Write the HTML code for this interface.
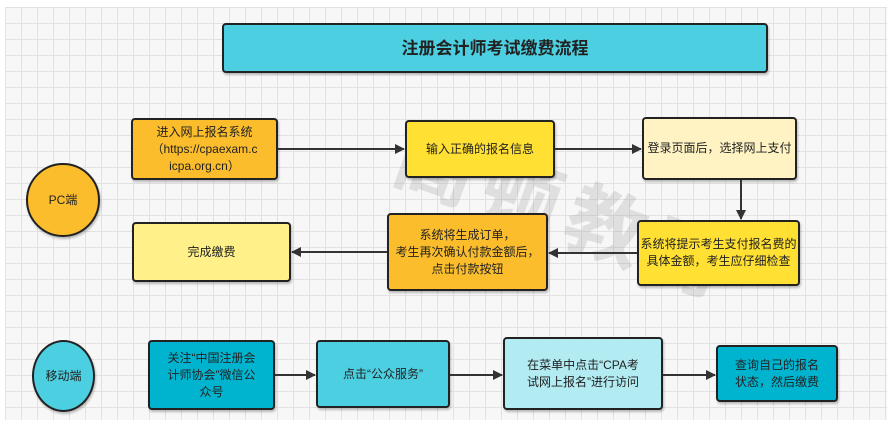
<!DOCTYPE html>
<html><head><meta charset="utf-8"><style>
body{margin:0;width:892px;height:429px;background:#fff;position:relative;overflow:hidden;font-family:"Liberation Sans","Noto Sans CJK SC",sans-serif;}
.grid{position:absolute;left:5px;top:7px;width:882px;height:413px;background-color:#f7f7f7;
background-image:linear-gradient(#e2e2e2 1px,transparent 1px),linear-gradient(90deg,#e2e2e2 1px,transparent 1px);background-size:16px 16px;}
.b{position:absolute;box-sizing:border-box;border:2px solid #222;border-radius:4px;display:flex;align-items:center;justify-content:center;text-align:center;font-size:12px;color:#222;line-height:17px;white-space:nowrap;box-shadow:1px 2px 2px rgba(0,0,0,.25);}
svg{position:absolute;left:0;top:0}
.wm{position:absolute;font-size:80px;color:rgba(150,150,150,.25);font-weight:bold;transform:rotate(20deg);left:390px;top:150px;letter-spacing:10px;}
</style></head><body>
<div class="grid"></div>
<div class="wm">高顿教育</div>
<div class="b" style="left:222px;top:23px;width:546px;height:50px;background:#4ccfe0;font-size:17px;font-weight:bold;">注册会计师考试缴费流程</div>
<div class="b" style="left:131px;top:118px;width:147px;height:62px;background:#fbbd2c;">进入网上报名系统<br>（https://cpaexam.c<br>icpa.org.cn）</div>
<div class="b" style="left:405px;top:120px;width:150px;height:58px;background:#ffe033;">输入正确的报名信息</div>
<div class="b" style="left:642px;top:117px;width:155px;height:63px;background:#fff3c4;">登录页面后，选择网上支付</div>
<div class="b" style="left:637px;top:220px;width:163px;height:66px;background:#ffe033;">系统将提示考生支付报名费的<br>具体金额，考生应仔细检查</div>
<div class="b" style="left:387px;top:213px;width:161px;height:78px;background:#fbbd2c;">系统将生成订单，<br>考生再次确认付款金额后，<br>点击付款按钮</div>
<div class="b" style="left:132px;top:222px;width:159px;height:60px;background:#fff08a;">完成缴费</div>
<div class="b" style="left:26px;top:163px;width:74px;height:74px;border-radius:50%;background:#fbbd2c;">PC端</div>
<div class="b" style="left:32px;top:340px;width:63px;height:72px;border-radius:50%;background:#4ccfe0;">移动端</div>
<div class="b" style="left:148px;top:340px;width:127px;height:70px;background:#00b4d0;">关注“中国注册会<br>计师协会”微信公<br>众号</div>
<div class="b" style="left:316px;top:340px;width:134px;height:68px;background:#4ccfe0;">点击“公众服务”</div>
<div class="b" style="left:503px;top:337px;width:160px;height:73px;background:#b2ebf2;">在菜单中点击“CPA考<br>试网上报名”进行访问</div>
<div class="b" style="left:716px;top:345px;width:122px;height:57px;background:#00b4d0;">查询自己的报名<br>状态，然后缴费</div>
<svg width="892" height="429">
<defs><marker id="a" markerWidth="10" markerHeight="10" refX="9" refY="5" orient="auto" markerUnits="userSpaceOnUse"><path d="M0,0 L10,5 L0,10 z" fill="#333"/></marker></defs>
<g stroke="#333" stroke-width="2" fill="none" marker-end="url(#a)">
<line x1="278" y1="149" x2="404" y2="149"/>
<line x1="555" y1="149" x2="641" y2="149"/>
<line x1="741" y1="180" x2="741" y2="219"/>
<line x1="637" y1="253" x2="549" y2="253"/>
<line x1="387" y1="252" x2="292" y2="252"/>
<line x1="275" y1="375" x2="315" y2="375"/>
<line x1="450" y1="375" x2="502" y2="375"/>
<line x1="663" y1="375" x2="715" y2="375"/>
</g></svg>
</body></html>
